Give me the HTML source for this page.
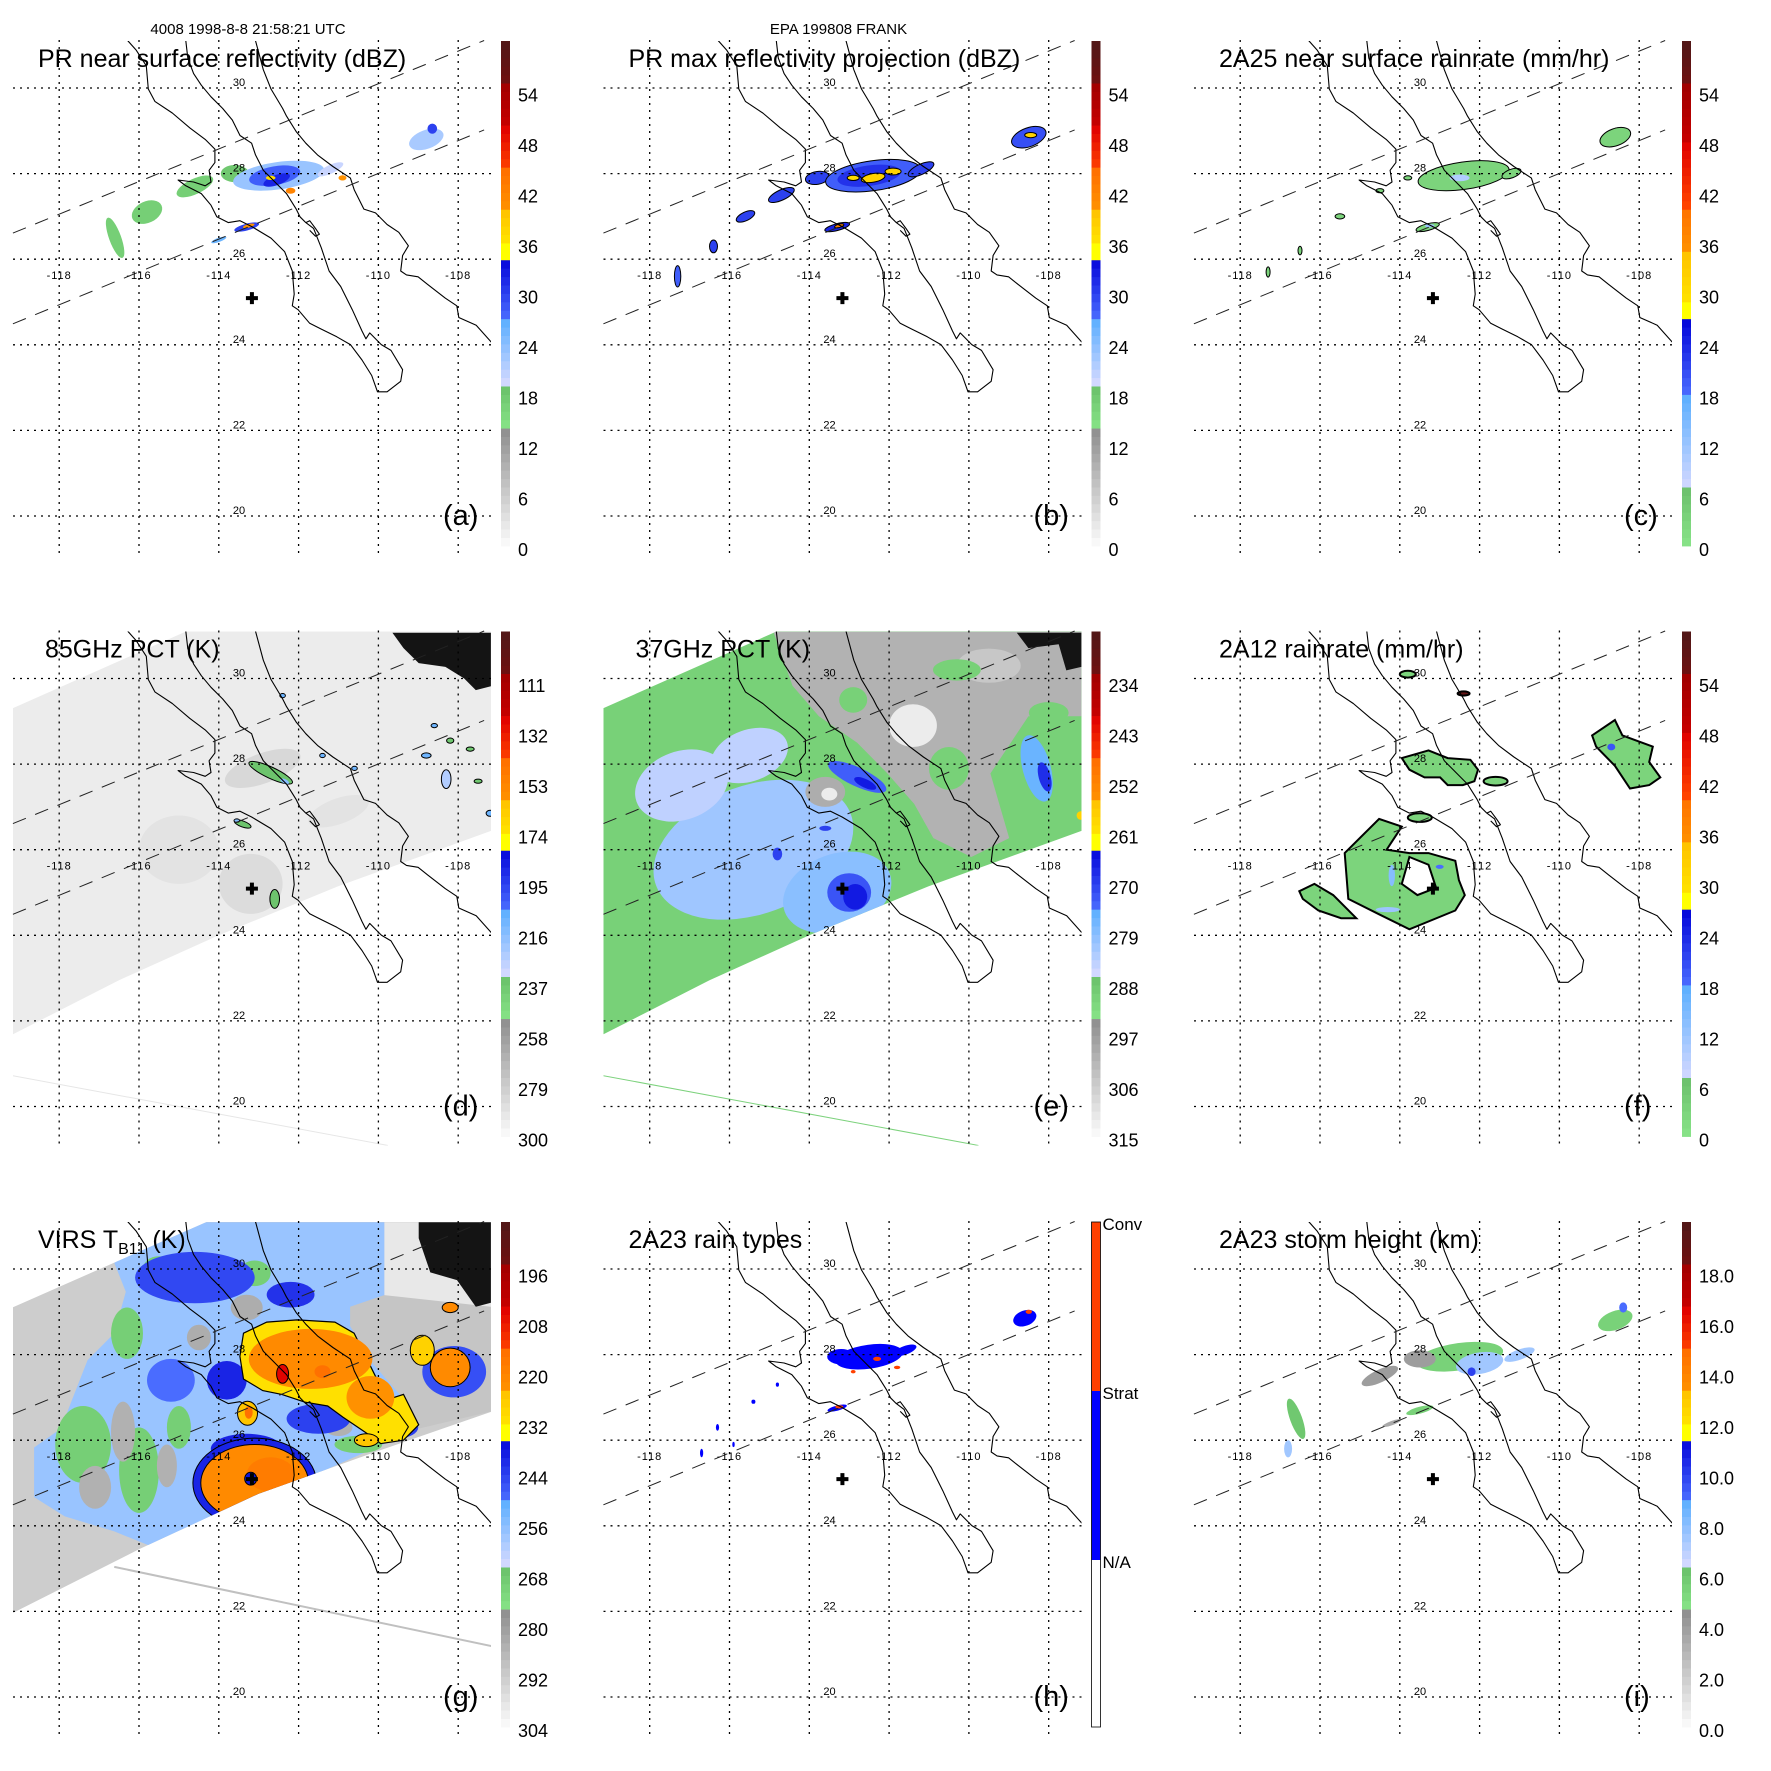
<!DOCTYPE html>
<html><head><meta charset="utf-8"><title>TRMM Frank 1998</title>
<style>
html,body{margin:0;padding:0;background:#fff;}
svg{display:block;font-family:"Liberation Sans",sans-serif;}
</style></head>
<body>
<svg id="fig" width="1771" height="1771" viewBox="0 0 1771 1771" xmlns="http://www.w3.org/2000/svg"></svg>
<script>
// ---------- data arrays ----------
const lonTicks = [-118,-116,-114,-112,-110,-108];
const latTicks = [30,28,26,24,22,20];
const stormCenter = [-113.17, 25.09];

const labelsA = [0,6,12,18,24,30,36,42,48,54];
const labelsD = [300,279,258,237,216,195,174,153,132,111];
const labelsE = [315,306,297,288,279,270,261,252,243,234];
const labelsG = [304,292,280,268,256,244,232,220,208,196];
const labelsI = ["0.0","2.0","4.0","6.0","8.0","10.0","12.0","14.0","16.0","18.0"];

// blobs: [lon, lat, rxDeg, ryDeg, value, rotDeg, outline]
const blobsA = [[-116.6,26.5,0.15,0.5,17,-20],[-115.8,27.1,0.4,0.25,17,-25],[-114.6,27.7,0.5,0.18,17,-25],[-113.6,28.0,0.35,0.2,18,0],
 [-112.5,27.95,1.15,0.32,23,-8],[-112.6,27.95,0.65,0.22,28,-10],[-112.55,27.85,0.35,0.12,32,-20],[-112.7,27.9,0.12,0.05,37,0],[-112.2,27.6,0.12,0.07,42,0],
 [-111.2,28.1,0.35,0.1,20,-25],[-110.9,27.9,0.1,0.06,40,0],[-113.3,26.75,0.32,0.08,30,-15],[-113.25,26.78,0.15,0.04,40,-15],[-114.0,26.45,0.2,0.05,26,-20],
 [-108.8,28.8,0.45,0.22,22,-20],[-108.65,29.05,0.12,0.12,30,0]];
const blobsB = [[-117.3,25.6,0.08,0.25,28,0,1],[-116.4,26.3,0.1,0.15,30,0,1],[-115.6,27.0,0.25,0.1,30,-25,1],[-114.7,27.5,0.35,0.12,30,-25,1],[-113.8,27.9,0.3,0.15,30,-10,1],
 [-112.4,27.95,1.2,0.35,28,-8,1],[-112.5,27.95,0.8,0.24,31,-8,0],[-112.4,27.9,0.3,0.1,38,-10,1],[-111.9,28.05,0.2,0.08,38,0,1],[-112.9,27.9,0.15,0.06,37,0,1],
 [-108.5,28.85,0.45,0.22,29,-20,1],[-108.45,28.9,0.15,0.06,38,0,1],[-113.3,26.75,0.32,0.08,32,-15,1],[-113.25,26.78,0.12,0.04,42,-15,1],[-111.2,28.1,0.35,0.12,30,-25,1]];
const blobsC = [[-112.4,27.95,1.15,0.32,3,-8,1],[-112.5,27.9,0.25,0.08,10,0,0],[-108.6,28.85,0.4,0.2,3,-20,1],[-113.3,26.75,0.3,0.08,3,-15,1],[-113.25,26.78,0.12,0.04,12,0,0],
 [-117.3,25.7,0.05,0.12,3,0,1],[-116.5,26.2,0.05,0.1,3,0,1],[-115.5,27.0,0.12,0.06,3,0,1],[-114.5,27.6,0.1,0.05,3,0,1],[-113.8,27.9,0.1,0.05,3,0,1],[-111.2,28.0,0.25,0.1,3,-20,1]];
const blobsD = [[-112.9,27.9,1.0,0.35,284,-20],[-113.2,25.2,0.8,0.7,286,0],[-111.0,26.9,0.8,0.3,289,-20],[-115,26.0,1.0,0.8,289,0],
 [-112.7,27.8,0.6,0.13,235,25,1],[-112.35,27.6,0.12,0.05,215,25,0],[-113.4,26.6,0.22,0.07,235,20,1],[-113.55,26.68,0.07,0.04,215,0,1],[-112.6,24.85,0.12,0.22,235,0,1],[-112.65,24.35,0.1,0.04,235,0,1],
 [-108.3,27.65,0.12,0.22,225,0,1],[-108.8,28.2,0.12,0.06,210,0,1],[-108.6,28.9,0.08,0.05,210,0,1],[-108.2,28.55,0.09,0.06,237,0,1],[-107.7,28.35,0.1,0.05,237,0,1],[-107.5,27.6,0.1,0.05,237,0,1],
 [-107.2,26.85,0.1,0.07,210,0,1],[-112.4,29.6,0.07,0.05,210,0,1],[-111.4,28.2,0.07,0.05,210,0,1],[-110.6,27.9,0.07,0.05,210,0,1]];
const blobsE = [[-115.4,26.0,2.6,1.5,281,-20],[-113.3,25.0,1.4,0.9,279,-20],[-117.2,27.5,1.2,0.8,284,-20],[-115.5,28.2,1.0,0.6,284,-20],
 [-113.0,25.0,0.55,0.45,272,0],[-112.85,24.9,0.3,0.3,266,0],[-114.8,25.9,0.12,0.15,270,0],
 [-112.8,27.7,0.8,0.22,273,25],[-112.6,27.55,0.3,0.1,266,25],[-108.3,27.9,0.35,0.8,276,-15],[-108.1,27.7,0.15,0.35,268,-15],[-107.2,26.8,0.1,0.1,258,0],[-113.6,26.5,0.15,0.06,270,0]];
const blobsE2 = [[-111.4,28.9,0.6,0.5,312,0],[-109.5,30.3,0.8,0.4,305,0],[-113.6,27.35,0.5,0.35,300,0],[-113.5,27.3,0.2,0.15,312,0],
 [-110.5,27.9,0.5,0.5,290,0],[-112.9,29.5,0.35,0.3,290,0],[-110.3,30.2,0.6,0.25,290,0],[-108.0,29.2,0.5,0.25,290,0]];
const blobsF = [[-114.2,25.4,0.08,0.25,14,0],[-113.0,25.6,0.1,0.05,18,0],[-108.7,28.4,0.1,0.08,20,0],[-114.3,24.6,0.3,0.06,12,0],
 [-111.6,27.6,0.3,0.1,3,0,1],[-113.5,26.75,0.3,0.1,3,0,1],[-113.8,30.1,0.2,0.08,3,0,1],[-112.4,29.65,0.15,0.05,57,0,1]];
const blobsG1 = [[-117.4,25.9,0.7,0.9,270,0],[-116.0,25.3,0.5,1.0,270,0],[-115.0,26.3,0.3,0.5,270,0],[-116.3,28.5,0.4,0.6,270,0],[-113.1,29.9,0.4,0.3,270,0],[-115.5,30.0,0.4,0.3,270,0],[-110.5,25.9,0.6,0.2,270,0],
 [-116.4,26.2,0.3,0.7,285,0],[-117.1,24.9,0.4,0.5,285,0],[-115.3,25.4,0.25,0.5,285,0],[-111.0,26.3,0.35,0.2,285,0],[-113.3,29.1,0.4,0.3,284,0],[-114.5,28.4,0.3,0.3,284,0],
 [-114.6,29.8,1.5,0.6,245,0],[-113.8,27.4,0.5,0.45,240,0],[-115.2,27.4,0.6,0.5,250,0],[-112.2,29.4,0.6,0.3,242,0],[-113.3,25.8,0.9,0.35,240,0],[-111.5,26.5,0.8,0.35,244,0],[-114.3,25.0,0.3,0.6,245,0],[-109.5,26.3,0.5,0.25,244,0],[-108.1,27.6,0.8,0.6,246,0]];
const blobsG2 = [[-111.7,27.9,1.55,0.7,222,0],[-110.2,27.0,0.6,0.5,224,0],[-112.4,27.55,0.15,0.22,205,0,1],[-111.4,27.6,0.2,0.15,215,0],
 [-113.1,25.0,1.55,1.05,240,0,1],[-113.1,25.0,1.35,0.9,222,0,1],[-112.7,25.2,0.6,0.4,218,0],[-113.2,25.1,0.15,0.15,238,0,1],
 [-113.28,26.63,0.25,0.28,225,0,1],[-113.25,26.65,0.1,0.15,215,0],[-108.2,27.7,0.5,0.45,222,0,1],[-108.9,28.1,0.3,0.35,228,0,1],[-108.2,29.1,0.2,0.12,222,0,1],[-110.3,26.0,0.3,0.15,225,0,1]];
const blobsH = [[-112.5,27.95,0.85,0.28,1,-8],[-113.2,27.95,0.35,0.18,1,0],[-111.6,28.1,0.3,0.1,1,-20],[-112.3,27.9,0.1,0.05,2,0],[-111.8,27.7,0.08,0.04,2,0],[-112.9,27.6,0.06,0.04,2,0],
 [-113.3,26.75,0.25,0.06,1,-15],[-113.25,26.78,0.1,0.04,2,0],[-108.6,28.85,0.3,0.18,1,-20],[-108.5,29.0,0.08,0.05,2,0],
 [-116.7,25.7,0.04,0.1,1,0],[-116.3,26.3,0.04,0.08,1,0],[-115.4,26.9,0.05,0.05,1,0],[-114.8,27.3,0.04,0.05,1,0],[-115.9,25.9,0.03,0.06,1,0]];
const blobsI = [[-112.5,27.95,1.1,0.32,5.5,-8],[-112.0,27.8,0.6,0.25,7.5,-10],[-112.2,27.6,0.1,0.1,10,0],[-113.5,27.9,0.4,0.2,4,0],[-114.5,27.5,0.5,0.15,4,-25],[-116.6,26.5,0.15,0.5,6,-20],
 [-116.8,25.8,0.1,0.2,7.5,0],[-113.5,26.7,0.35,0.08,5.5,-15],[-114.2,26.4,0.25,0.05,3.5,-20],[-111.0,28.0,0.4,0.12,7.5,-20],[-108.6,28.8,0.45,0.22,5.5,-20],[-108.4,29.1,0.1,0.12,9,0]];

// polygons in lon/lat
const polyDblack = [[-109.65,31.07],[-107.18,31.07],[-107.18,29.82],[-107.56,29.73],[-107.85,30.0],[-108.32,30.27],[-108.99,30.36],[-109.37,30.71]];
const polyEgrey = [[-114.9,31.09],[-107.18,31.09],[-107.18,29.12],[-108.51,29.12],[-109.46,27.78],[-108.99,26.27],[-109.94,25.83],[-110.89,26.27],[-111.37,27.07],[-112.04,27.78],[-112.8,28.5],[-113.76,29.12],[-114.42,29.83]];
const polyEblack = [[-108.8,31.07],[-107.18,31.07],[-107.18,30.27],[-107.56,30.19],[-107.75,30.8],[-108.51,30.71]];
const polyFring = [[-115.38,25.92],[-114.52,26.72],[-113.95,26.54],[-114.33,26.0],[-113.76,25.92],[-113.28,25.92],[-112.61,25.74],[-112.52,25.29],[-112.37,24.94],[-112.61,24.58],[-113.76,24.14],[-114.52,24.49],[-115.29,24.85]];
const polyFhole = [[-113.76,25.83],[-113.28,25.65],[-113.09,25.11],[-113.56,24.94],[-113.95,25.2]];
const polyFwest = [[-116.52,25.03],[-116.14,25.2],[-115.67,24.94],[-115.09,24.4],[-115.47,24.4],[-116.04,24.58],[-116.43,24.85]];
const polyFnorth = [[-113.95,28.14],[-113.28,28.32],[-112.8,28.14],[-112.23,28.1],[-112.04,27.87],[-112.13,27.6],[-112.42,27.51],[-112.8,27.51],[-112.99,27.69],[-113.38,27.69],[-113.76,27.87]];
const polyFne = [[-109.18,28.67],[-108.61,29.03],[-108.42,28.67],[-107.66,28.41],[-107.75,28.05],[-107.47,27.69],[-107.75,27.51],[-108.23,27.43],[-108.61,27.96],[-109.08,28.41]];
const polyGcolor = [[-116.62,30.14],[-116.33,29.47],[-116.62,28.5],[-117.29,27.87],[-117.96,26.27],[-118.63,25.83],[-118.63,24.67],[-117.86,24.22],[-116.62,23.87],[-115.67,23.51],[-108.99,26.27],[-109.46,27.07],[-110.13,27.78],[-110.71,28.67],[-110.52,29.12],[-109.85,29.39],[-109.85,31.09],[-114.33,31.09],[-116.0,30.6]];
const polyGgrey = [[-110.71,29.12],[-109.85,29.39],[-107.18,29.39],[-107.18,26.67],[-108.99,26.27],[-109.46,27.07],[-110.13,27.78],[-110.71,28.67]];
const polyGwhite = [[-109.85,31.09],[-107.18,31.09],[-107.18,29.12],[-109.85,29.39]];
const polyGblack = [[-108.99,31.09],[-107.18,31.09],[-107.18,29.21],[-107.56,29.12],[-108.03,29.74],[-108.7,29.92],[-108.99,30.72]];
const polyGcloud = [[-113.38,28.5],[-112.8,28.76],[-112.04,28.81],[-111.09,28.76],[-110.61,28.5],[-110.32,27.96],[-110.04,27.43],[-109.94,26.9],[-109.37,27.07],[-108.99,26.36],[-109.37,26.0],[-109.94,25.92],[-110.32,26.18],[-110.89,26.54],[-111.27,26.8],[-111.85,26.89],[-112.42,27.07],[-112.9,27.16],[-113.38,27.43],[-113.47,27.96]];

const swathPM_top = [[-119.3,29.25],[-113,31.85],[-107,34.3]];
const swathPM_bot = [[-107.0,26.5],[-111,25.15],[-114,24.0],[-116.5,22.95],[-119.3,21.62]];
const swathV_top = [[-119.3,29.05],[-114.3,31.1],[-107,34.1]];
const swathV_bot = [[-107.0,26.72],[-110,25.75],[-113,24.75],[-116,23.45],[-119.3,21.9]];
const prEdgeUpper = [[-119.16,26.61],[-107.35,31.11]];
const prEdgeLower = [[-119.16,24.49],[-107.35,29.02]];

// coastlines (units = reference px *2.583 within a panel)
const coastBaja = [[330,105],[352,130],[378,170],[383,230],[400,262],[445,292],[490,330],[530,360],[555,385],[555,420],[540,440],[545,470],[530,480],[500,470],[460,465],[480,480],[520,500],[545,530],[560,560],[590,575],[620,570],[650,585],[700,615],[735,650],[755,700],[760,760],[755,790],[770,800],[800,835],[830,850],[870,870],[905,890],[935,930],[960,970],[975,1012],[1000,1012],[1035,985],[1040,955],[1010,905],[985,890],[955,860],[945,875],[935,855],[910,800],[880,740],[850,700],[830,640],[810,590],[790,575],[775,560],[765,540],[740,500],[715,475],[680,440],[660,400],[650,370],[620,350],[600,310],[575,280],[545,250],[520,220],[500,190],[485,150],[480,105]];
const coastMain = [[660,105],[680,180],[700,230],[730,280],[740,300],[765,340],[790,370],[820,400],[860,430],[905,460],[915,490],[940,540],[970,550],[1000,580],[1030,600],[1055,635],[1040,660],[1035,700],[1050,710],[1080,715],[1105,735],[1150,770],[1180,790],[1185,820],[1230,840],[1270,885]];
const coastIsland = [[790,575],[800,570],[815,590],[825,605],[815,610],[800,595]];

// ---------- drawing ----------
const svg = document.getElementById('fig');
const NS = 'http://www.w3.org/2000/svg';
function mk(tag, attrs, parent){const e=document.createElementNS(NS,tag);for(const k in attrs)e.setAttribute(k,attrs[k]);parent.appendChild(e);return e;}
const X = lon => 59.2 + (lon + 118) * 39.9;
const Y = lat => 88 + (30 - lat) * 42.8;
const CB_TOP = 41, CB_BOT = 546;

const PAL = {
 std:[[0,.236,'#fcfcfc','#8c8c8c'],[.236,.324,'#86e286','#68be68'],[.324,.45,'#d2d8ff','#5aaeff'],[.45,.575,'#4a6cff','#0000d8'],[.575,.6,'#ffff00','#ffff00'],[.6,.66,'#ffe400','#ffc400'],[.66,.745,'#ff9400','#ff7000'],[.745,.83,'#ff4400','#e00000'],[.83,.917,'#c80000','#a00000'],[.917,1,'#701010','#501818']],
 rain:[[0,.117,'#88e488','#6cbf6c'],[.117,.3,'#d2d8ff','#5aaeff'],[.3,.455,'#4a6cff','#0000d8'],[.455,.48,'#ffff00','#ffff00'],[.48,.576,'#ffe400','#ffc400'],[.576,.674,'#ff9400','#ff7000'],[.674,.8,'#ff4400','#e00000'],[.8,.91,'#c80000','#a00000'],[.91,1,'#701010','#501818']]
};
function hx(c){return [1,3,5].map(i=>parseInt(c.substr(i,2),16));}
function mix(a,b,t){const A=hx(a),B=hx(b);return 'rgb('+A.map((v,i)=>Math.round(v+(B[i]-v)*t)).join(',')+')';}
function cmap(name,f){f=Math.max(0,Math.min(0.9999,f));const P=PAL[name];for(const s of P){if(f>=s[0]&&f<s[1])return mix(s[2],s[3],(f-s[0])/(s[1]-s[0]));}return P[P.length-1][3];}

function polyD(pts){return 'M'+pts.map(p=>X(p[0]).toFixed(1)+','+Y(p[1]).toFixed(1)).join('L')+'Z';}

const panels = [
 {id:'a',title:'PR near surface reflectivity (dBZ)',pal:'std',vmin:0,vmax:60,labels:labelsA,header:'4008 1998-8-8 21:58:21 UTC',blobs:blobsA},
 {id:'b',title:'PR max reflectivity projection (dBZ)',pal:'std',vmin:0,vmax:60,labels:labelsA,header:'EPA 199808 FRANK',blobs:blobsB},
 {id:'c',title:'2A25 near surface rainrate (mm/hr)',pal:'rain',vmin:0,vmax:60,labels:labelsA,blobs:blobsC},
 {id:'d',title:'85GHz PCT (K)',pal:'std',vmin:300,vmax:90,labels:labelsD,swath:'pm',base:293,tx:45,blobs:blobsD,masks:[polyDblack],faint:['#e6e6e6',1]},
 {id:'e',title:'37GHz PCT (K)',pal:'std',vmin:315,vmax:225,labels:labelsE,swath:'pm',base:290,tx:45,blobs:blobsE,polys:[[polyEgrey,301]],blobs2:blobsE2,masks:[polyEblack],faint:['#7dd27d',1]},
 {id:'f',title:'2A12 rainrate (mm/hr)',pal:'rain',vmin:0,vmax:60,labels:labelsA,fpolys:[[polyFring,polyFhole],[polyFwest],[polyFnorth],[polyFne]],blobs2:blobsF},
 {id:'g',title:'VIRS',pal:'std',vmin:304,vmax:184,labels:labelsG,swath:'virs',base:292,polys:[[polyGcolor,258],[polyGgrey,290],[polyGwhite,299]],masks:[polyGblack],blobs:blobsG1,cloud:polyGcloud,blobs2:blobsG2,faint:['#c0c0c0',2]},
 {id:'h',title:'2A23 rain types',pal:'types',labels:[],blobs:blobsH},
 {id:'i',title:'2A23 storm height (km)',pal:'std',vmin:0,vmax:20,labels:labelsI,blobs:blobsI}
];

function valColor(p,v){
 if(p.pal==='types') return v===2?'#ff4000':'#0000ff';
 return cmap(p.pal,(v-p.vmin)/(p.vmax-p.vmin));
}

function drawBlobs(p,list,parent,olw){
 for(const b of list){
  const cx=X(b[0]),cy=Y(b[1]);
  const e=mk('ellipse',{cx:cx.toFixed(1),cy:cy.toFixed(1),rx:(b[2]*39.9).toFixed(1),ry:(b[3]*42.8).toFixed(1),fill:valColor(p,b[4]),transform:`rotate(${b[5]||0} ${cx.toFixed(1)} ${cy.toFixed(1)})`},parent);
  
  
  if(b[6]){e.setAttribute('stroke','#000');e.setAttribute('stroke-width',olw||1);}
 }
}

panels.forEach((p,idx)=>{
 const ox=(idx%3)*590.5, oy=Math.floor(idx/3)*590.5;
 const g=mk('g',{transform:`translate(${ox},${oy})`},svg);
 
 

 const cid='clip-'+p.id;
 const defs=mk('defs',{},g);
 const cp=mk('clipPath',{id:cid},defs);
 mk('rect',{x:13,y:41,width:478,height:514},cp);

 const map=mk('g',{'clip-path':`url(#${cid})`},g);
 
 

 let dataG=map;
 if(p.swath){
  const top=p.swath==='pm'?swathPM_top:swathV_top, bot=p.swath==='pm'?swathPM_bot:swathV_bot;
  const pts=top.concat(bot);
  const sid='sw-'+p.id;
  const scp=mk('clipPath',{id:sid},defs);
  mk('path',{d:polyD(pts)},scp);
  const sw=mk('path',{d:polyD(pts),fill:valColor(p,p.base)},map);
  
  
  dataG=mk('g',{'clip-path':`url(#${sid})`},map);
  
  
 }
 if(p.polys){
  for(const [pts,v] of p.polys){
   const e=mk('path',{d:polyD(pts),fill:valColor(p,v)},dataG);
   
   
  }
 }
 if(p.masks){
  for(const pts of p.masks){
   const e=mk('path',{d:polyD(pts),fill:'#141414'},dataG);
   
   
  }
 }
 if(p.blobs) drawBlobs(p,p.blobs,dataG,1);
 if(p.cloud){
  const e=mk('path',{d:polyD(p.cloud),fill:valColor(p,231),stroke:'#000','stroke-width':1.2},dataG);
  
  
 }
 if(p.fpolys){
  for(const set of p.fpolys){
   const e=mk('path',{d:set.map(polyD).join(' '),fill:valColor(p,3),'fill-rule':'evenodd',stroke:'#000','stroke-width':2},dataG);
   
   
  }
 }
 if(p.blobs2) drawBlobs(p,p.blobs2,dataG,p.id==='f'?2:1);

 if(p.faint){
  const pts=p.id==='g'?[[-116.62,23.04],[-107.17,21.19]]:[[-119.16,20.72],[-109.76,19.09]];
  const l=mk('line',{x1:X(pts[0][0]),y1:Y(pts[0][1]),x2:X(pts[1][0]),y2:Y(pts[1][1]),stroke:p.faint[0],'stroke-width':p.faint[1]},map);
  
  
 }

 const grid=mk('g',{stroke:'#000','stroke-width':1.3,'stroke-dasharray':'2,5',fill:'none'},g);
 
 
 lonTicks.forEach(lon=>{mk('line',{x1:X(lon),y1:40,x2:X(lon),y2:554},grid);});
 latTicks.forEach(lat=>{mk('line',{x1:13,y1:Y(lat),x2:492,y2:Y(lat)},grid);});

 const coastG=mk('g',{fill:'none',stroke:'#000','stroke-width':1.1,'stroke-linejoin':'round','clip-path':`url(#${cid})`},g);
 
 
 [coastBaja,coastMain,coastIsland].forEach(c=>{mk('polyline',{points:c.map(q=>(q[0]/2.583).toFixed(1)+','+(q[1]/2.583).toFixed(1)).join(' ')},coastG);});

 const edges=mk('g',{stroke:'#222','stroke-width':1,'stroke-dasharray':'14,10',fill:'none'},g);
 
 
 [prEdgeUpper,prEdgeLower].forEach(e=>{mk('line',{x1:X(e[0][0]),y1:Y(e[0][1]),x2:X(e[1][0]),y2:Y(e[1][1])},edges);});

 lonTicks.forEach(lon=>{
  const t=mk('text',{x:X(lon),y:279,'font-size':11,'text-anchor':'middle','letter-spacing':'1'},g);
  t.textContent=lon;
  
  
 });
 latTicks.forEach(lat=>{
  const t=mk('text',{x:239,y:Y(lat)-2,'font-size':11,'text-anchor':'middle'},g);
  t.textContent=lat;
  
  
 });

 const cx=X(stormCenter[0]), cy=Y(stormCenter[1]);
 const cross=mk('path',{d:`M${cx-6},${cy-2}h12v4h-12zM${cx-2},${cy-6}h4v12h-4z`,fill:'#000'},g);
 
 

 const tt=mk('text',{x:p.tx||38,y:67,'font-size':25},g);
 
 
 if(p.id==='g'){
  tt.textContent='VIRS T';
  const s=mk('tspan',{'font-size':16,dy:6},tt); s.textContent='B11';
  const r=mk('tspan',{dy:-6},tt); r.textContent=' (K)';
 } else tt.textContent=p.title;

 if(p.header){
  const h=mk('text',{x:248,y:34,'font-size':15,'text-anchor':'middle'},g);
  h.textContent=p.header;
  
  
 }

 const lt=mk('text',{x:443,y:525,'font-size':29},g);
 lt.textContent='('+p.id+')';
 
 

 const cb=mk('g',{},g);
 
 
 if(p.pal==='types'){
  mk('rect',{x:501,y:379,width:9,height:167,fill:'#fff'},cb);
  mk('rect',{x:501,y:210,width:9,height:169,fill:'#0000ff'},cb);
  mk('rect',{x:501,y:41,width:9,height:169,fill:'#ff4000'},cb);
  mk('rect',{x:501,y:41,width:9,height:505,fill:'none',stroke:'#000','stroke-width':0.8},cb);
  [['Conv',41],['Strat',210],['N/A',379]].forEach(([s,y])=>{
   const t=mk('text',{x:512,y:y+8,'font-size':17},cb); t.textContent=s;
   
   
  });
 } else {
  const N=60;
  for(let i=0;i<N;i++){
   const f0=i/N, y=CB_BOT-(i+1)/N*(CB_BOT-CB_TOP);
   mk('rect',{x:501,y:y.toFixed(2),width:9,height:((CB_BOT-CB_TOP)/N+0.4).toFixed(2),fill:cmap(p.pal,f0+0.5/N)},cb);
  }
  p.labels.forEach((lab,k)=>{
   const y=CB_BOT-k*50.5;
   const t=mk('text',{x:518,y:y+10,'font-size':18},cb);
   t.textContent=lab;
   
   
  });
 }
});
</script>
</body></html>
